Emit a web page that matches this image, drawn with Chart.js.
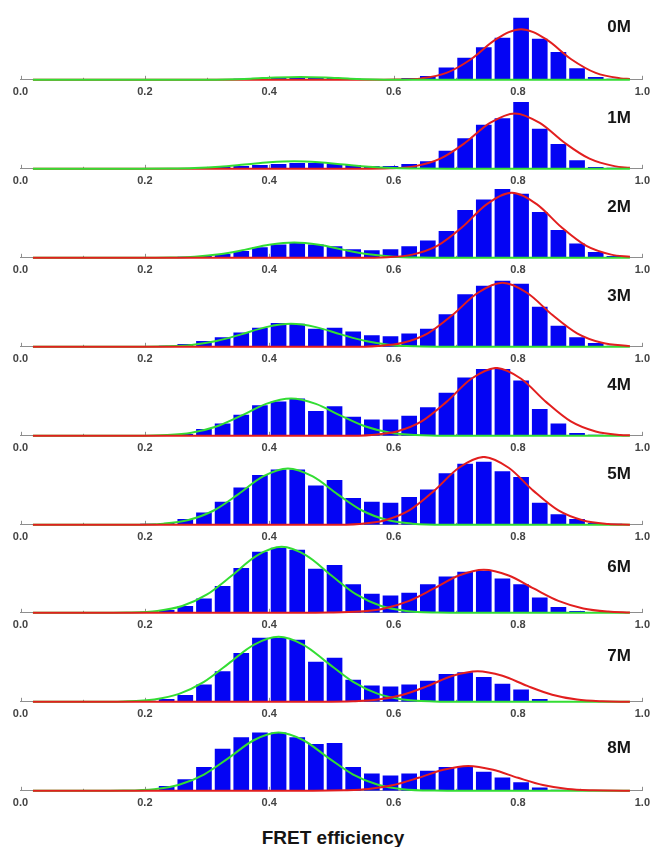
<!DOCTYPE html>
<html>
<head>
<meta charset="utf-8">
<script src="https://cdn.jsdelivr.net/npm/chart.js@4.4.0/dist/chart.umd.min.js"></script>
<style>
  html, body { margin: 0; padding: 0; background: #fff; }
  #wrap { position: relative; width: 656px; height: 847px; overflow: hidden; background: #fff; }
  canvas.panel { position: absolute; left: 0; }
  .tag {
    position: absolute; transform: translate(-50%, -50%);
    font: bold 17px "Liberation Sans", Arial, sans-serif; color: #161616; white-space: nowrap;
  }
  #xtitle {
    position: absolute; left: 333px; top: 838px; transform: translate(-50%, -50%);
    font: bold 19px "Liberation Sans", Arial, sans-serif; color: #141414; white-space: nowrap;
  }
</style>
</head>
<body>
<div id="wrap"></div>
<script>
// FRET efficiency histograms, bin width 0.03 (0.01 .. 1.00)
const binCenters = [0.025, 0.055, 0.085, 0.115, 0.145, 0.175, 0.205, 0.235, 0.265, 0.295, 0.325,
                    0.355, 0.385, 0.415, 0.445, 0.475, 0.505, 0.535, 0.565, 0.595, 0.625, 0.655,
                    0.685, 0.715, 0.745, 0.775, 0.805, 0.835, 0.865, 0.895, 0.925, 0.955, 0.985];

const hist0M = [0,0,0,0,0,0,0,0,0,0,0, 1,2,2,3,3,2,1,0.5,0.5,2,4, 13,23,34,44,65,43,29,12,3,1,0];
const hist1M = [0,0,0,0,0,0,0,0,0,0.5,2, 3,4,5,6,6,5,4,3,3,5,8, 19,32,46,53,70,42,26,9,2,1,0];
const hist2M = [0,0,0,0,0,0,0,0,1,2,4, 7,11,14,16,14,12,9,8,9,12,18, 28,50,61,72,67,48,29,15,6,2,0];
const hist3M = [0,0,0,0,0,0,0,1,3,6,10, 15,20,25,24,19,20,16,12,11,14,19, 34,55,64,69,66,42,22,10,4,1,0];
const hist4M = [0,0,0,0,0,0,0,0.5,2,7,13, 22,32,36,39,26,31,20,17,17,21,30, 45,61,70,70,58,28,13,3,1,0,0];
const hist5M = [0,0,0,0,0,0,1,2,6,13,24, 39,52,58,58,41,47,28,24,23,29,37, 54,64,66,56,50,23,11,6,2,1,0];
const hist6M = [0,0,0,0,0,0,1,3,7,15,28, 47,64,68,66,46,50,30,20,18,21,30, 38,43,44,36,30,16,6,2,0.5,0,0];
const hist7M = [0,0,0,0,0,0,1,3,7,18,32, 51,67,67,65,42,46,23,17,16,18,22, 29,31,26,19,13,3,0.5,0,0,0,0];
const hist8M = [0,0,0,0,0,0,1,5,12,25,44, 56,61,61,56,49,50,25,18,16,18,21, 25,26,20,14,9,3.5,1,0,0,0,0];

// Gaussian fit curves: low-FRET population (green) and high-FRET population (red), [E, counts]
const greenFit0M = [[0.02,0],[0.25,0],[0.29,0.1],[0.33,0.4],[0.37,1.2],[0.41,2.4],[0.45,3],[0.49,2.4],[0.53,1.2],[0.57,0.4],[0.61,0.1],[0.65,0],[0.98,0]];
const redFit0M   = [[0.02,0],[0.555,0],[0.605,0.2],[0.645,1.5],[0.685,7.2],[0.725,21.8],[0.765,42.5],[0.805,53],[0.845,42.5],[0.885,21.8],[0.925,7.2],[0.965,1.5],[0.98,0.8]];
const greenFit1M = [[0.02,0],[0.19,0],[0.24,0.2],[0.28,0.8],[0.32,2.2],[0.36,4.5],[0.40,6.9],[0.44,8],[0.48,6.9],[0.52,4.5],[0.56,2.2],[0.60,0.8],[0.64,0.2],[0.69,0],[0.98,0]];
const redFit1M   = [[0.02,0],[0.545,0],[0.595,0.5],[0.635,2.8],[0.675,10.6],[0.715,27.2],[0.755,48],[0.795,58],[0.835,48],[0.875,27.2],[0.915,10.6],[0.955,2.8],[0.98,1]];
const greenFit2M = [[0.02,0],[0.19,0],[0.24,0.3],[0.28,1.2],[0.32,3.7],[0.36,8.3],[0.40,13.6],[0.44,16],[0.48,13.6],[0.52,8.3],[0.56,3.7],[0.60,1.2],[0.64,0.3],[0.69,0],[0.98,0]];
const redFit2M   = [[0.02,0],[0.54,0],[0.59,0.6],[0.63,3.3],[0.67,12.4],[0.71,31.9],[0.75,56.2],[0.79,68],[0.83,56.2],[0.87,31.9],[0.91,12.4],[0.95,3.3],[0.98,1]];
const greenFit3M = [[0.02,0],[0.185,0],[0.235,0.5],[0.275,2],[0.315,6],[0.355,13],[0.395,20.6],[0.435,24],[0.475,20.6],[0.515,13],[0.555,6],[0.595,2],[0.635,0.5],[0.685,0],[0.98,0]];
const redFit3M   = [[0.02,0],[0.525,0],[0.575,0.9],[0.615,4.2],[0.655,14.1],[0.695,33.5],[0.735,56.3],[0.775,67],[0.815,56.3],[0.855,33.5],[0.895,14.1],[0.935,4.2],[0.98,0.7]];
const greenFit4M = [[0.02,0],[0.185,0],[0.235,0.8],[0.275,3.3],[0.315,9.7],[0.355,21.1],[0.395,33.4],[0.435,39],[0.475,33.4],[0.515,21.1],[0.555,9.7],[0.595,3.3],[0.635,0.8],[0.685,0],[0.98,0]];
const redFit4M   = [[0.02,0],[0.515,0],[0.565,0.9],[0.605,4.5],[0.645,15],[0.685,35.5],[0.725,59.7],[0.765,71],[0.805,59.7],[0.845,35.5],[0.885,15],[0.925,4.5],[0.965,0.9],[0.98,0.5]];
const greenFit5M = [[0.02,0],[0.18,0],[0.23,1.2],[0.27,5],[0.31,14.7],[0.35,31.9],[0.39,50.6],[0.43,59],[0.47,50.6],[0.51,31.9],[0.55,14.7],[0.59,5],[0.63,1.2],[0.68,0],[0.98,0]];
const redFit5M   = [[0.02,0],[0.495,0],[0.545,0.9],[0.585,4.5],[0.625,15],[0.665,35.5],[0.705,59.7],[0.745,71],[0.785,59.7],[0.825,35.5],[0.865,15],[0.905,4.5],[0.945,0.9],[0.98,0.1]];
const greenFit6M = [[0.02,0],[0.12,0],[0.17,0.3],[0.22,2],[0.26,7.1],[0.30,19.2],[0.34,39],[0.38,59.8],[0.42,69],[0.46,59.8],[0.50,39],[0.54,19.2],[0.58,7.1],[0.62,2],[0.67,0.3],[0.72,0],[0.98,0]];
const redFit6M   = [[0.02,0],[0.445,0],[0.495,0.2],[0.545,1.3],[0.585,4.6],[0.625,12.5],[0.665,25.5],[0.705,39],[0.745,45],[0.785,39],[0.825,25.5],[0.865,12.5],[0.905,4.6],[0.945,1.3],[0.98,0.3]];
const greenFit7M = [[0.02,0],[0.115,0],[0.165,0.4],[0.215,2.5],[0.255,8.3],[0.295,20.8],[0.335,40.2],[0.375,59.6],[0.415,68],[0.455,59.6],[0.495,40.2],[0.535,20.8],[0.575,8.3],[0.615,2.5],[0.665,0.4],[0.715,0],[0.98,0]];
const redFit7M   = [[0.02,0],[0.485,0],[0.535,0.5],[0.575,2.3],[0.615,7.4],[0.655,16.6],[0.695,27.2],[0.735,32],[0.775,27.2],[0.815,16.6],[0.855,7.4],[0.895,2.3],[0.935,0.5],[0.98,0]];
const greenFit8M = [[0.02,0],[0.115,0],[0.165,0.2],[0.215,1.7],[0.255,6.3],[0.295,17],[0.335,34.5],[0.375,52.9],[0.415,61],[0.455,52.9],[0.495,34.5],[0.535,17],[0.575,6.3],[0.615,1.7],[0.665,0.2],[0.715,0],[0.98,0]];
const redFit8M   = [[0.02,0],[0.47,0],[0.52,0.5],[0.56,1.9],[0.60,6],[0.64,13.6],[0.68,22],[0.72,26],[0.76,22],[0.80,13.6],[0.84,6],[0.88,1.9],[0.92,0.5],[0.97,0],[0.98,0]];

const panelLabels = ['0M', '1M', '2M', '3M', '4M', '5M', '6M', '7M', '8M'];
const xTickValues = [0, 0.2, 0.4, 0.6, 0.8, 1.0];
const xTickLabels = ['0.0', '0.2', '0.4', '0.6', '0.8', '1.0'];
const xMinorTicks = [0.1, 0.3, 0.5, 0.7, 0.9];
const axisTitle = 'FRET efficiency';

const histograms = [hist0M, hist1M, hist2M, hist3M, hist4M, hist5M, hist6M, hist7M, hist8M];
const greenFits  = [greenFit0M, greenFit1M, greenFit2M, greenFit3M, greenFit4M, greenFit5M, greenFit6M, greenFit7M, greenFit8M];
const redFits    = [redFit0M, redFit1M, redFit2M, redFit3M, redFit4M, redFit5M, redFit6M, redFit7M, redFit8M];

// layout
const FIRST_BASELINE = 80;
const PANEL_PITCH = 88.9;
const PLOT_H = 72;          // chart-area height of each strip
const Y_MAX = 72;
const labelCenterY = [27, 118, 207, 296, 385, 474, 567, 656, 748];
const LABEL_X = 619;

const BAR_BLUE = '#0404f4';
const FIT_GREEN = '#33dd33';
const FIT_RED = '#e21e1e';
const AXIS_GREY = '#8e8e8e';

// small tick marks that point up into the plot
const innerTicks = {
  id: 'innerTicks',
  beforeDatasetsDraw(chart) {
    const sx = chart.scales.x;
    const y0 = chart.chartArea.bottom;
    const ctx = chart.ctx;
    ctx.save();
    ctx.strokeStyle = AXIS_GREY;
    ctx.lineWidth = 1;
    ctx.beginPath();
    xTickValues.forEach(v => {
      const px = Math.round(sx.getPixelForValue(v)) + 0.5;
      ctx.moveTo(px, y0); ctx.lineTo(px, y0 - 4);
    });
    xMinorTicks.forEach(v => {
      const px = Math.round(sx.getPixelForValue(v)) + 0.5;
      ctx.moveTo(px, y0); ctx.lineTo(px, y0 - 2);
    });
    ctx.stroke();
    ctx.restore();
  }
};

const wrap = document.getElementById('wrap');

function buildPanel(i) {
  const canvas = document.createElement('canvas');
  canvas.className = 'panel';
  wrap.appendChild(canvas);
  const greenOnTop = i < 2;
  let H = 94;
  canvas.width = 656; canvas.height = H;
  canvas.style.width = '656px'; canvas.style.height = H + 'px';

  const chart = new Chart(canvas, {
    type: 'bar',
    data: {
      datasets: [
        {
          type: 'bar',
          data: binCenters.map((x, k) => ({ x: x, y: histograms[i][k] })),
          backgroundColor: BAR_BLUE,
          borderWidth: 0,
          categoryPercentage: 1.0,
          barPercentage: 0.84,
          order: 10
        },
        {
          type: 'line',
          data: greenFits[i].map(p => ({ x: p[0], y: p[1] })),
          borderColor: FIT_GREEN,
          borderWidth: 2,
          pointRadius: 0,
          fill: false,
          cubicInterpolationMode: 'monotone',
          clip: false,
          order: greenOnTop ? 1 : 2
        },
        {
          type: 'line',
          data: redFits[i].map(p => ({ x: p[0], y: p[1] })),
          borderColor: FIT_RED,
          borderWidth: 2,
          pointRadius: 0,
          fill: false,
          cubicInterpolationMode: 'monotone',
          clip: false,
          order: greenOnTop ? 2 : 1
        }
      ]
    },
    options: {
      responsive: false,
      animation: false,
      devicePixelRatio: 1,
      layout: { padding: { left: 20.5, right: 9.5, top: 0, bottom: 0 } },
      plugins: { legend: { display: false }, tooltip: { enabled: false } },
      scales: {
        x: {
          type: 'linear',
          min: 0, max: 1,
          offset: false,
          grid: { display: false, drawTicks: false },
          border: { display: true, color: AXIS_GREY, width: 1 },
          afterBuildTicks: s => { s.ticks = xTickValues.map(v => ({ value: v })); },
          ticks: {
            autoSkip: false,
            maxRotation: 0,
            padding: 6,
            color: '#444444',
            font: { family: 'Liberation Sans', size: 11, weight: 'bold' },
            callback: (v, idx) => xTickLabels[idx]
          }
        },
        y: { display: false, min: 0, max: Y_MAX }
      }
    },
    plugins: [innerTicks]
  });

  // size the strip so that the plot area is exactly PLOT_H tall
  const axisH = H - chart.chartArea.bottom;
  H = Math.round(PLOT_H + axisH);
  chart.resize(656, H);
  const baseline = FIRST_BASELINE + PANEL_PITCH * i;
  canvas.style.top = (Math.round(baseline) - chart.chartArea.bottom) + 'px';

  const tag = document.createElement('div');
  tag.className = 'tag';
  tag.textContent = panelLabels[i];
  tag.style.left = LABEL_X + 'px';
  tag.style.top = labelCenterY[i] + 'px';
  wrap.appendChild(tag);
}

for (let i = 0; i < panelLabels.length; i++) buildPanel(i);

const title = document.createElement('div');
title.id = 'xtitle';
title.textContent = axisTitle;
wrap.appendChild(title);
</script>
</body>
</html>
